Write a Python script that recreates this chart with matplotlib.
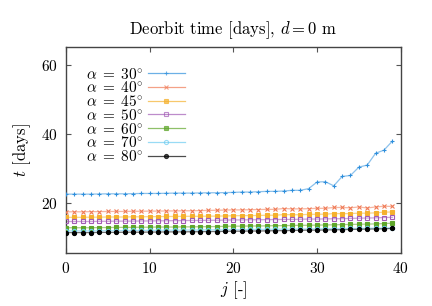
import matplotlib
matplotlib.use("Agg")
import matplotlib.pyplot as plt
import numpy as np

plt.rcParams['font.family'] = 'serif'
plt.rcParams['font.serif'] = ['cmr10']
plt.rcParams['mathtext.fontset'] = 'cm'
plt.rcParams['axes.unicode_minus'] = False
plt.rcParams['axes.formatter.use_mathtext'] = True

j = np.arange(40)
alphas = [30, 40, 45, 50, 60, 70, 80]

t30 = [22.7, 22.7, 22.7, 22.7, 22.75, 22.8, 22.8, 22.8, 22.85, 22.9, 22.9, 22.9, 22.95, 23.0, 23.0, 23.0, 23.05, 23.1, 23.1, 23.15,
       23.2, 23.3, 23.3, 23.4, 23.5, 23.5, 23.6, 23.8, 23.8, 24.3, 26.2, 26.3, 25.1, 27.8, 28.1, 30.5, 31.1, 34.5, 35.4, 38.0]
t40 = [17.6, 17.6, 17.6, 17.65, 17.65, 17.7, 17.7, 17.7, 17.75, 17.75, 17.8, 17.8, 17.85, 17.85, 17.9, 17.9, 17.95, 18.0, 18.05, 18.1,
       18.15, 18.15, 18.2, 18.25, 18.3, 18.3, 18.55, 18.45, 18.45, 18.5, 18.6, 18.6, 18.85, 18.85, 18.75, 19.0, 18.7, 19.0, 19.2, 19.15]
t45 = [16.0, 16.0, 16.0, 16.05, 16.05, 16.1, 16.1, 16.1, 16.15, 16.15, 16.2, 16.2, 16.25, 16.25, 16.3, 16.3, 16.3, 16.35, 16.35, 16.4,
       16.45, 16.5, 16.5, 16.55, 16.6, 16.6, 16.8, 16.75, 16.75, 16.85, 16.9, 16.9, 17.1, 17.05, 17.1, 17.2, 17.2, 17.3, 17.5, 17.55]
t50 = [14.8, 14.8, 14.8, 14.8, 14.85, 14.85, 14.9, 14.9, 14.9, 14.95, 14.95, 15.0, 15.0, 15.05, 15.05, 15.1, 15.1, 15.15, 15.15, 15.2,
       15.25, 15.25, 15.3, 15.3, 15.35, 15.35, 15.4, 15.4, 15.45, 15.5, 15.5, 15.55, 15.6, 15.6, 15.7, 15.75, 15.8, 15.85, 15.95, 16.0]
t60 = [13.0, 13.0, 13.0, 13.0, 13.05, 13.05, 13.1, 13.1, 13.1, 13.15, 13.15, 13.2, 13.2, 13.2, 13.25, 13.25, 13.3, 13.3, 13.35, 13.4,
       13.45, 13.45, 13.5, 13.5, 13.55, 13.6, 13.6, 13.65, 13.7, 13.7, 13.75, 13.8, 13.85, 13.9, 13.95, 14.0, 14.05, 14.1, 14.2, 14.3]
t70 = [12.1, 12.1, 12.1, 12.1, 12.15, 12.15, 12.15, 12.2, 12.2, 12.2, 12.25, 12.25, 12.3, 12.3, 12.3, 12.35, 12.35, 12.4, 12.4, 12.4,
       12.45, 12.45, 12.5, 12.5, 12.55, 12.55, 12.6, 12.6, 12.65, 12.65, 12.7, 12.7, 12.75, 12.75, 12.8, 12.8, 12.85, 12.9, 12.9, 12.95]
t80 = [11.6, 11.6, 11.6, 11.6, 11.65, 11.65, 11.65, 11.7, 11.7, 11.7, 11.75, 11.75, 11.8, 11.8, 11.8, 11.85, 11.85, 11.9, 11.9, 11.95,
       12.0, 12.0, 12.05, 12.05, 12.1, 12.15, 12.15, 12.2, 12.25, 12.3, 12.3, 12.35, 12.4, 12.45, 12.5, 12.55, 12.6, 12.65, 12.7, 12.8]

series = [t30, t40, t45, t50, t60, t70, t80]
colors = ['#2e8fdc', '#f07a55', '#f5b12e', '#a25bb5', '#5fa62a', '#6cccf2', '#000000']
markers = ['+', 'x', 's', 's', 's', 'o', 'o']
filled = [True, True, True, False, True, False, True]
msizes = [3.5, 3.0, 2.5, 3.5, 3.0, 3.0, 3.0]

fig = plt.figure(figsize=(4.32, 3.06), dpi=100)
ax = fig.add_axes([0.1528, 0.1732, 0.7747, 0.6732])

from matplotlib.lines import Line2D
handles = []
for a, y, c, m, f, ms in zip(alphas, series, colors, markers, filled, msizes):
    ax.plot(j, y, color=c, lw=0.9, alpha=0.55, zorder=2)
    ax.plot(j, y, ls='none', marker=m, ms=ms, color=c, mfc=(c if f else 'none'),
            mec=c, mew=0.8, zorder=3)
    handles.append(Line2D([0], [0], color=c, lw=0.9, marker=m, ms=ms,
                          mfc=(c if f else 'none'), mec=c, mew=0.8,
                          label=r'$\alpha\;=\;%d^{\circ}$' % a))

leg = ax.legend(handles=handles, loc='upper left', frameon=False, fontsize=11,
                markerfirst=False, handlelength=2.4, handletextpad=0.35,
                labelspacing=-0.08, borderaxespad=0.0, bbox_to_anchor=(0.04, 0.935))
for h in leg.legend_handles:
    h.set_alpha(0.7)

ax.set_xlim(0, 40)
ax.set_ylim(5.7, 65.2)
ax.set_xticks([0, 10, 20, 30, 40])
ax.set_yticks([20, 40, 60])
ax.tick_params(direction='in', top=True, right=True, length=3.5, width=0.8,
               labelsize=11, color='#555555', pad=6)
for s in ax.spines.values():
    s.set_color('#444444')
    s.set_linewidth(1.0)

ax.set_title(r'Deorbit time [days], $d = 0$ m', fontsize=12, pad=9)
ax.set_xlabel(r'$j$ [-]', fontsize=12, labelpad=2)
ax.set_ylabel(r'$t$ [days]', fontsize=12, labelpad=6)

fig.savefig('out.png', dpi=100)
